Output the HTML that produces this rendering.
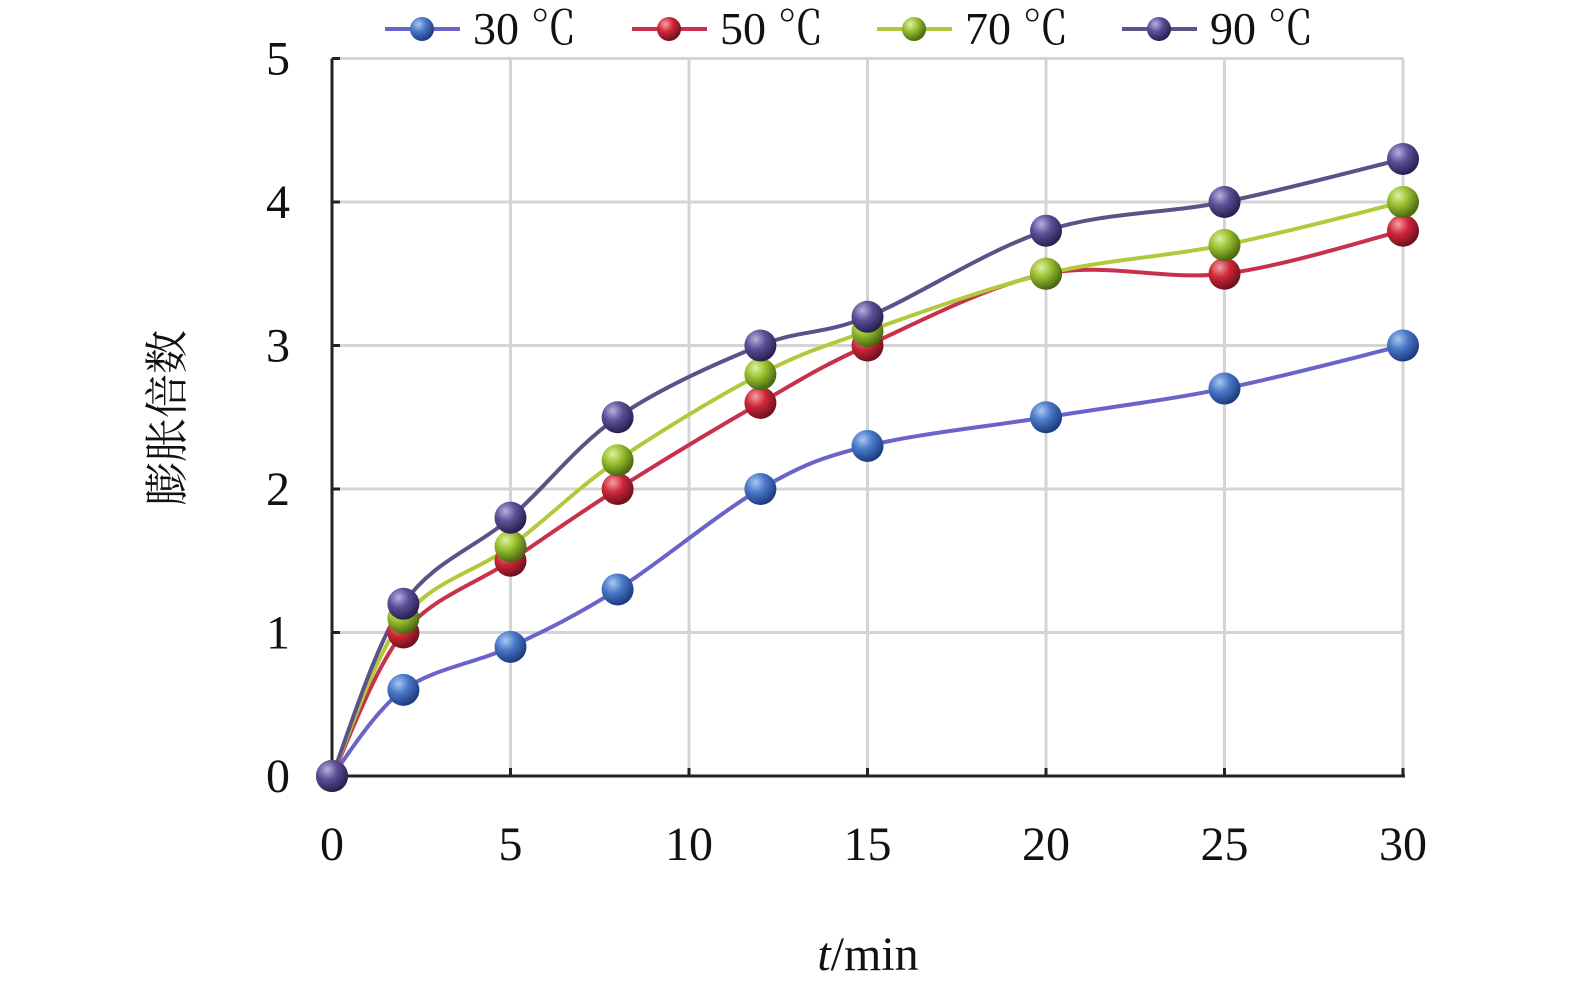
<!DOCTYPE html>
<html><head><meta charset="utf-8"><style>
body{margin:0;background:#fff}
svg text{font-family:"Liberation Serif","Noto Serif CJK SC",serif;fill:#111}
</style></head><body>
<svg id="chart" width="1575" height="991" viewBox="0 0 1575 991" xmlns="http://www.w3.org/2000/svg">
<defs>
<radialGradient id="g30" cx="35%" cy="30%" r="70%"><stop offset="0" stop-color="#a8c8f0"/><stop offset="0.45" stop-color="#4a78c8"/><stop offset="1" stop-color="#1e3c80"/></radialGradient>
<radialGradient id="g50" cx="35%" cy="30%" r="70%"><stop offset="0" stop-color="#f5a0a8"/><stop offset="0.45" stop-color="#d02838"/><stop offset="1" stop-color="#701020"/></radialGradient>
<radialGradient id="g70" cx="35%" cy="30%" r="70%"><stop offset="0" stop-color="#e0f0a0"/><stop offset="0.45" stop-color="#98c030"/><stop offset="1" stop-color="#4a6810"/></radialGradient>
<radialGradient id="g90" cx="35%" cy="30%" r="70%"><stop offset="0" stop-color="#b8b0e0"/><stop offset="0.45" stop-color="#5c5098"/><stop offset="1" stop-color="#2a2050"/></radialGradient>
</defs>
<g id="grid"></g>
<g id="axes"></g>
<g id="series"></g>
<g id="legend"></g>
<text x="0" y="0" font-size="44" text-anchor="middle" transform="translate(182,418) rotate(-90)">膨胀倍数</text>
<text x="868" y="970" font-size="48" text-anchor="middle"><tspan font-style="italic">t</tspan>/min</text>
</svg>
<script>
const xValues=[0,2,5,8,12,15,20,25,30];
const s30=[0,0.6,0.9,1.3,2,2.3,2.5,2.7,3];
const s50=[0,1.0,1.5,2.0,2.6,3.0,3.5,3.5,3.8];
const s70=[0,1.1,1.6,2.2,2.8,3.1,3.5,3.7,4.0];
const s90=[0,1.2,1.8,2.5,3.0,3.2,3.8,4.0,4.3];
const seriesNames=["30 ℃","50 ℃","70 ℃","90 ℃"];
const xTicks=[0,5,10,15,20,25,30];
const yTicks=[0,1,2,3,4,5];
const NS="http://www.w3.org/2000/svg";
const X=v=>332+v*(1403-332)/30;
const Y=v=>776-v*(776-58.5)/5;
function mk(t,a,p){const e=document.createElementNS(NS,t);for(const k in a)e.setAttribute(k,a[k]);p.appendChild(e);return e;}
const grid=document.getElementById('grid'),axes=document.getElementById('axes'),ser=document.getElementById('series'),leg=document.getElementById('legend');
xTicks.forEach(t=>{if(t>0){const l=mk('line',{x1:X(t),x2:X(t),y1:Y(5),y2:Y(0),stroke:'#d4d4d4','stroke-width':3},grid);

}
const tx=mk('text',{x:X(t),y:860,'font-size':48,'text-anchor':'middle'},axes);tx.textContent=t;


mk('line',{x1:X(t),x2:X(t),y1:Y(0),y2:Y(0)-8,stroke:'#222','stroke-width':3},axes);});
yTicks.forEach(t=>{if(t>0){const l=mk('line',{x1:X(0),x2:X(30),y1:Y(t),y2:Y(t),stroke:'#d4d4d4','stroke-width':3},grid);

}
const tx=mk('text',{x:290,y:Y(t)+16,'font-size':48,'text-anchor':'end'},axes);tx.textContent=t;


mk('line',{x1:X(0),x2:X(0)+8,y1:Y(t),y2:Y(t),stroke:'#222','stroke-width':3},axes);});
mk('line',{x1:X(0),x2:X(0),y1:Y(5),y2:Y(0),stroke:'#222','stroke-width':3},axes);
mk('line',{x1:X(0),x2:X(30)+2,y1:Y(0),y2:Y(0),stroke:'#222','stroke-width':3},axes);
function smooth(p){let d=`M${p[0][0]},${p[0][1]}`;for(let i=0;i<p.length-1;i++){const p0=p[i-1]||p[i],p1=p[i],p2=p[i+1],p3=p[i+2]||p2;
const c1=[p1[0]+(p2[0]-p0[0])/6,p1[1]+(p2[1]-p0[1])/6],c2=[p2[0]-(p3[0]-p1[0])/6,p2[1]-(p3[1]-p1[1])/6];
d+=` C${c1[0]},${c1[1]} ${c2[0]},${c2[1]} ${p2[0]},${p2[1]}`;}return d;}
const all=[s30,s50,s70,s90],cols=['#6a64c8','#c8304c','#b4c83c','#5a5288'],grads=['g30','g50','g70','g90'],ids=['30','50','70','90'];
all.forEach((s,k)=>{const pts=xValues.map((x,i)=>[X(x),Y(s[i])]);
const p=mk('path',{d:smooth(pts),fill:'none',stroke:cols[k],'stroke-width':4},ser);

});
all.forEach((s,k)=>{xValues.forEach((x,i)=>{const c=mk('circle',{cx:X(x),cy:Y(s[i]),r:16,fill:'url(#'+grads[k]+')'},ser);

});});
const lx=[385,632,877,1122];
seriesNames.forEach((n,k)=>{const g=mk('g',{},leg);


mk('line',{x1:lx[k],x2:lx[k]+75,y1:29,y2:29,stroke:cols[k],'stroke-width':4},g);
mk('circle',{cx:lx[k]+37,cy:29,r:12,fill:'url(#'+grads[k]+')'},g);
const t=mk('text',{x:lx[k]+88,y:44,'font-size':46},g);t.textContent=n;});
</script>
</body></html>
